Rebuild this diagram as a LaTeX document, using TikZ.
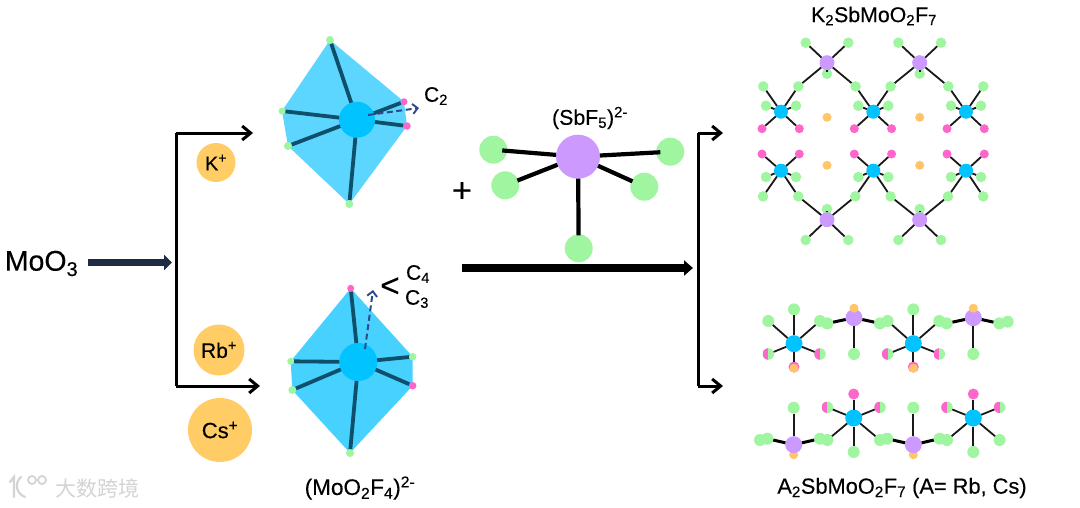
\documentclass[tikz,border=0pt]{standalone}
\usepackage{fontspec}
\setmainfont[FakeBold=0.3]{Liberation Sans}
\newfontfamily\medf[FakeBold=0.25]{Liberation Sans}
\newfontfamily\cjkwm{Noto Sans CJK SC}
\usetikzlibrary{arrows.meta}
\definecolor{fgreen}{HTML}{A0F5A0}
\definecolor{fpink}{HTML}{FF66CC}
\definecolor{fpurple}{HTML}{CC99FF}
\definecolor{forange}{HTML}{FFC566}
\definecolor{ionor}{HTML}{FFCC66}
\definecolor{fblue}{HTML}{00C3FF}
\definecolor{polyA}{HTML}{5CD6FF}
\definecolor{polyB}{HTML}{47D1FF}
\definecolor{polybond}{HTML}{0E4F6B}
\definecolor{navy}{HTML}{1F2D44}
\definecolor{dashblue}{HTML}{2F4A8C}
\definecolor{wm}{HTML}{D4D4D4}
\tikzset{
  x=1pt,y=-1pt,
  atom/.style={circle,inner sep=0pt,outer sep=0pt,minimum size=#1},
  gs/.style={atom=10.5pt,fill=fgreen},
  ps/.style={atom=9pt,fill=fpink},
  bs/.style={atom=14pt,fill=fblue},
  vs/.style={atom=15pt,fill=fpurple},
  os/.style={atom=9pt,fill=forange},
  gm/.style={atom=12pt,fill=fgreen},
  pm/.style={atom=11pt,fill=fpink},
  om/.style={atom=9pt,fill=forange},
  bm/.style={atom=17pt,fill=fblue},
  vm/.style={atom=17pt,fill=fpurple},
  halfa/.style={atom=11.5pt,fill=fgreen,path picture={\fill[fpink] (path picture bounding box.south west) rectangle (path picture bounding box.north);}},
  bond/.style={line width=1.8pt,black!90},
  wbond/.style={line width=3pt,black},
  pbond/.style={line width=3.8pt,polybond},
  ibond/.style={line width=4.2pt,black},
  tip/.style={-{Straight Barb[length=8.5pt,width=14pt,line width=3pt]}},
  bracket/.style={line width=3pt,black},
  ion/.style={circle,fill=ionor,inner sep=0pt,font=\medf\fontsize{#1}{#1}\selectfont},
  lab/.style={inner sep=0pt,font=\fontsize{#1}{#1}\selectfont},
  dasharrow/.style={line width=2pt,dashblue,dash pattern=on 6pt off 3.5pt,-{Straight Barb[length=5pt,width=10pt,line width=1.9pt]}},
}
\newcommand{\topunit}[3]{%
  \begin{scope}[shift={(#2,#3)}]
    \node[gs] (#1a) at (-17.7,-25.3) {};
    \node[gs] (#1b) at (17.3,-25.3) {};
    \node[gs] (#1c) at (-15,-6) {};
    \node[gs] (#1d) at (15,-6) {};
    \node[ps] (#1e) at (-19,17) {};
    \node[ps] (#1f) at (18.3,17) {};
    \node[bs] (#1o) at (0,0) {};
    \foreach \k in {a,b,c,d,e,f} \draw[bond] (#1o) -- (#1\k);
  \end{scope}}
\newcommand{\lowunit}[3]{%
  \begin{scope}[shift={(#2,#3)}]
    \node[ps] (#1e) at (-19,-16.7) {};
    \node[ps] (#1f) at (18.3,-16.7) {};
    \node[gs] (#1c) at (-15,6.3) {};
    \node[gs] (#1d) at (15,6.3) {};
    \node[gs] (#1a) at (-18,25.7) {};
    \node[gs] (#1b) at (17.3,25.7) {};
    \node[bs] (#1o) at (0,0) {};
    \foreach \k in {a,b,c,d,e,f} \draw[bond] (#1o) -- (#1\k);
  \end{scope}}
\newcommand{\toppur}[3]{%
  \begin{scope}[shift={(#2,#3)}]
    \node[gs] (#1a) at (-21.3,-20) {};
    \node[gs] (#1b) at (21.3,-20) {};
    \node[gs] (#1c) at (0,11) {};
    \node[vs] (#1o) at (0,0) {};
    \foreach \k in {a,b} \draw[bond] (#1o) -- (#1\k);
    \draw[bond] (#1o.south) -- ++(0,1.5);
  \end{scope}}
\newcommand{\lowpur}[3]{%
  \begin{scope}[shift={(#2,#3)}]
    \node[gs] (#1a) at (-21.3,20.3) {};
    \node[gs] (#1b) at (21.3,20.3) {};
    \node[gs] (#1c) at (0,-10.7) {};
    \node[vs] (#1o) at (0,0) {};
    \foreach \k in {a,b} \draw[bond] (#1o) -- (#1\k);
    \draw[bond] (#1o.north) -- ++(0,-1.5);
  \end{scope}}
\newcommand{\chainblueA}[3]{%
  \begin{scope}[shift={(#2,#3)}]
    \node[gm] (#1a) at (0,-34.3) {};
    \node[gm] (#1b) at (-25.7,-22.7) {};
    \node[gm] (#1c) at (26,-22.7) {};
    \node[halfa] (#1d) at (-25.7,10.3) {};
    \node[halfa] (#1e) at (26,10.3) {};
    \node[pm] (#1f) at (0,23.3) {};
    \node[om] (#1g) at (0,24.5) {};
    \node[bm] (#1o) at (0,0) {};
    \foreach \k in {a,b,c,d,e,f} \draw[bond] (#1o) -- (#1\k);
  \end{scope}}
\newcommand{\chainpurA}[3]{%
  \begin{scope}[shift={(#2,#3)}]
    \node[gm] (#1a) at (-26.7,5.7) {};
    \node[gm] (#1b) at (26,5.7) {};
    \node[gm] (#1c) at (0,36.3) {};
    \node[vm] (#1o) at (0,0) {};
    \node[om] (#1d) at (0,-9.5) {};
    \draw[wbond] (#1o) -- (#1a);
    \draw[wbond] (#1o) -- (#1b);
    \draw[bond] (#1o) -- (#1c);
  \end{scope}}
\newcommand{\chainblueB}[3]{%
  \begin{scope}[shift={(#2,#3)}]
    \node[pm] (#1a) at (0,-24) {};
    \node[halfa] (#1b) at (-26.3,-10.7) {};
    \node[halfa] (#1c) at (26.3,-10.7) {};
    \node[gm] (#1d) at (-26.3,22) {};
    \node[gm] (#1e) at (26.3,22) {};
    \node[gm] (#1f) at (0,34) {};
    \node[bm] (#1o) at (0,0) {};
    \foreach \k in {a,b,c,d,e,f} \draw[bond] (#1o) -- (#1\k);
  \end{scope}}
\newcommand{\chainpurB}[3]{%
  \begin{scope}[shift={(#2,#3)}]
    \node[om] (#1d) at (0,10) {};
    \node[gm] (#1a) at (-26.3,-6) {};
    \node[gm] (#1b) at (26.3,-6) {};
    \node[gm] (#1c) at (0,-37) {};
    \node[vm] (#1o) at (0,0) {};
    \draw[wbond] (#1o) -- (#1a);
    \draw[wbond] (#1o) -- (#1b);
    \draw[bond] (#1o) -- (#1c);
  \end{scope}}
\begin{document}
\begin{tikzpicture}
\useasboundingbox (0,0) rectangle (1080,507);
\fill[white] (0,0) rectangle (1080,507);

% --- watermark ---
\node[text=wm,inner sep=0pt,font=\cjkwm\fontsize{21}{21}\selectfont] (wmtext) at (97.5,488) {大数跨境};
\draw[wm,line width=2.2pt,line cap=round] (10,482) -- (14,477) -- (14,497);
\draw[wm,line width=2.2pt,line cap=round] (21,477) .. controls (15,482) and (15,493) .. (25,497);
\draw[wm,line width=1.8pt] (32,480) circle[radius=4];
\draw[wm,line width=1.8pt] (42,480) circle[radius=4];

% --- left side ---
\node[lab=28.5] (moo) at (41.5,263.5) {MoO\textsubscript{3}};
\coordinate (moo-start) at (87.5,262.5);
\coordinate (moo-end) at (172,262.5);
\draw[navy,line width=7.5pt,-{Triangle[length=8pt,width=15pt]}] (moo-start) -- (moo-end);
\coordinate (brL-top) at (176,133);
\coordinate (brL-bot) at (176,386);
\coordinate (brL-topend) at (253,133);
\coordinate (brL-botend) at (260,386);
\draw[bracket,tip] (brL-top) -- (brL-topend);
\draw[bracket,tip] (brL-bot) -- (brL-botend);
\draw[bracket,line cap=square] (brL-top) -- (brL-bot);

\node[ion=20,minimum size=39pt] (kion) at (216,162.5) {K\textsuperscript{+}};
\node[ion=21,minimum size=51pt] (rbion) at (219,350) {Rb\textsuperscript{+}};
\node[ion=22,minimum size=64pt] (csion) at (220,430) {Cs\textsuperscript{+}};

% --- upper polyhedron ---
\coordinate (pa1) at (330,40);
\coordinate (pa2) at (404,101.7);
\coordinate (pa3) at (407,126);
\coordinate (pa4) at (349.3,204);
\coordinate (pa5) at (288,146);
\coordinate (pa6) at (282,111);
\fill[polyA] (pa1) -- (pa2) -- (pa3) -- (pa4) -- (pa5) -- (pa6) -- cycle;
\node[atom=8pt,fill=fgreen] (paT) at (pa1) {};
\node[atom=7pt,fill=fpink] (paR1) at (pa2) {};
\node[atom=7.5pt,fill=fpink] (paR2) at (pa3) {};
\node[atom=8pt,fill=fgreen] (paB) at (pa4) {};
\node[atom=8pt,fill=fgreen] (paL2) at (pa5) {};
\node[atom=7pt,fill=fgreen] (paL1) at (pa6) {};
\node[atom=36pt,fill=fblue] (pac) at (357,119.7) {};
\draw[pbond] (pac) -- (paT);
\draw[pbond] (pac) -- (paB);
\draw[pbond] (pac) -- (paL1);
\draw[pbond] (pac) -- (paL2);
\draw[pbond] (pac) -- (paR1);
\draw[pbond] (pac) -- (paR2);
\coordinate (dA1) at (368,115);
\coordinate (dA2) at (419,108);
\draw[dasharrow] (dA1) -- (dA2);
\node[lab=21] (c2) at (436,96) {C\textsubscript{2}};

% --- lower polyhedron ---
\coordinate (pb1) at (350.7,288.3);
\coordinate (pb2) at (412.7,356.7);
\coordinate (pb3) at (412.7,385.7);
\coordinate (pb4) at (350,453);
\coordinate (pb5) at (292.3,390);
\coordinate (pb6) at (290.7,361.3);
\fill[polyB] (pb1) -- (pb2) -- (pb3) -- (pb4) -- (pb5) -- (pb6) -- cycle;
\node[atom=7pt,fill=fpink] (pbT) at (pb1) {};
\node[atom=7.5pt,fill=fgreen] (pbR1) at (pb2) {};
\node[atom=7.5pt,fill=fpink] (pbR2) at (pb3) {};
\node[atom=8pt,fill=fgreen] (pbB) at (pb4) {};
\node[atom=8pt,fill=fgreen] (pbL2) at (pb5) {};
\node[atom=7pt,fill=fgreen] (pbL1) at (pb6) {};
\node[atom=38pt,fill=fblue] (pbc) at (358.3,362) {};
\draw[pbond] (pbc) -- (pbT);
\draw[pbond] (pbc) -- (pbB);
\draw[pbond] (pbc) -- (pbL1);
\draw[pbond] (pbc) -- (pbL2);
\draw[pbond] (pbc) -- (pbR1);
\draw[pbond] (pbc) -- (pbR2);
\coordinate (dB1) at (365,349);
\coordinate (dB2) at (373,290);
\draw[dasharrow] (dB1) -- (dB2);
\node[lab=33] (ltsym) at (390,287) {<};
\node[lab=21] (c4) at (418,274) {C\textsubscript{4}};
\node[lab=21] (c3) at (417,299) {C\textsubscript{3}};
\node[lab=22.5] (moF) at (360,488) {(MoO\textsubscript{2}F\textsubscript{4})\textsuperscript{2-}};

% --- SbF5 ---
\node[lab=34] (plus) at (462,192) {+};
\node[lab=21.3] (sblab) at (590,118) {(SbF\textsubscript{5})\textsuperscript{2-}};
\node[atom=44pt,fill=fpurple] (sb) at (578,156.7) {};
\node[atom=28pt,fill=fgreen] (f1) at (493.3,149.7) {};
\node[atom=28pt,fill=fgreen] (f2) at (505.3,185.3) {};
\node[atom=28pt,fill=fgreen] (f3) at (670.3,151.7) {};
\node[atom=28pt,fill=fgreen] (f4) at (644.3,186.7) {};
\node[atom=28pt,fill=fgreen] (f5) at (578.7,248.3) {};
\draw[ibond,shorten >=-5pt] (sb) -- (f1);
\draw[ibond,shorten >=-1pt] (sb) -- (f2);
\draw[ibond,shorten >=-4pt] (sb) -- (f3);
\draw[ibond,shorten >=-1pt] (sb) -- (f4);
\draw[ibond,shorten >=-1pt] (sb) -- (f5);

\coordinate (bigS) at (462,268);
\coordinate (bigE) at (693,268);
\draw[line width=8pt,black,-{Triangle[length=9pt,width=15pt]}] (bigS) -- (bigE);

% --- right bracket ---
\coordinate (brR-top) at (698,133);
\coordinate (brR-bot) at (698,386);
\coordinate (brR-topend) at (723,133);
\coordinate (brR-botend) at (723,386);
\draw[bracket,tip] (brR-top) -- (brR-topend);
\draw[bracket,tip] (brR-bot) -- (brR-botend);
\draw[bracket,line cap=square] (brR-top) -- (brR-bot);

% --- K2SbMoO2F7 ---
\node[lab=21.3] (klab) at (874,16) {K\textsubscript{2}SbMoO\textsubscript{2}F\textsubscript{7}};
\topunit{ta}{781}{111.7}
\topunit{tb}{873.3}{111.7}
\topunit{tc}{966}{111.7}
\toppur{ua}{827}{62.7}
\toppur{ub}{919.7}{62.7}
\draw[bond] (uao) -- (tab);
\draw[bond] (uao) -- (tba);
\draw[bond] (ubo) -- (tbb);
\draw[bond] (ubo) -- (tca);
\node[os] (oa) at (827,117.3) {};
\node[os] (ob) at (919.7,117.3) {};
\node[os] (oc) at (827,165.3) {};
\node[os] (od) at (919.7,165.3) {};
\lowunit{la}{781}{170.7}
\lowunit{lb}{873.3}{170.7}
\lowunit{lc}{966}{170.7}
\lowpur{va}{827}{219.7}
\lowpur{vb}{919.7}{219.7}
\draw[bond] (vao) -- (lab);
\draw[bond] (vao) -- (lba);
\draw[bond] (vbo) -- (lbb);
\draw[bond] (vbo) -- (lca);

% --- A2SbMoO2F7 chains ---
\chainblueA{ca}{794}{343.7}
\chainblueA{cb}{913.3}{343.7}
\chainpurA{da}{854}{317.7}
\chainpurA{db}{973.3}{317.7}
\node[gm] (xa) at (1007.7,321.7) {};
\chainblueB{ea}{853.7}{418}
\chainblueB{eb}{973.3}{418}
\chainpurB{fa}{793.7}{444.7}
\chainpurB{fb}{913.3}{444.7}
\node[gm] (xb) at (760,440) {};
\node[lab=21.8] (alab) at (902,488) {A\textsubscript{2}SbMoO\textsubscript{2}F\textsubscript{7} (A= Rb, Cs)};
\end{tikzpicture}
\end{document}
